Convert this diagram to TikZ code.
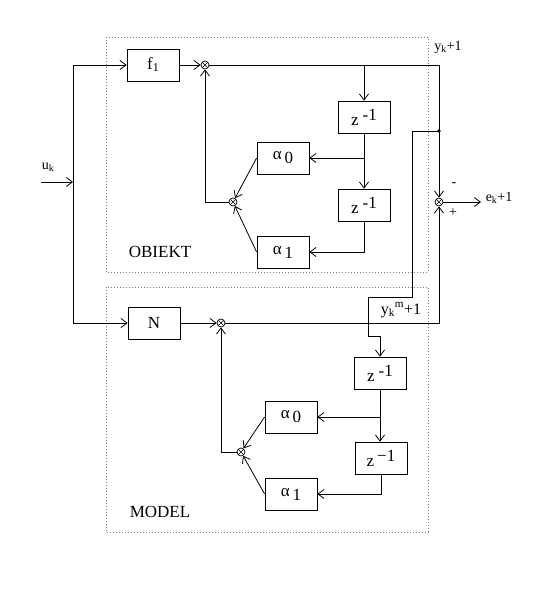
\documentclass[tikz,border=0pt]{standalone}
\usepackage{fontspec}
\setmainfont{Liberation Serif}
\usetikzlibrary{arrows.meta}
\newcommand{\zinv}{z\hspace{4pt}\raisebox{5pt}{-1}}
\newcommand{\zinvm}{z\hspace{3pt}\raisebox{5pt}{\textminus 1}}
\newcommand{\alp}[1]{α\hspace{3pt}\raisebox{-4pt}{#1}}
\begin{document}
\begin{tikzpicture}[x=1pt,y=-1pt,
  blk/.style={draw,line width=0.8pt,minimum width=52pt,minimum height=32pt,inner sep=0pt,font=\fontsize{17}{19}\selectfont},
  sumj/.style={draw,circle,minimum size=8pt,inner sep=0pt,line width=0.7pt,
    path picture={\draw[line width=0.6pt] (path picture bounding box.north west)--(path picture bounding box.south east) (path picture bounding box.north east)--(path picture bounding box.south west);}},
  wire/.style={line width=0.8pt},
  arr/.style={wire,-{Straight Barb[length=6pt,width=9pt]}},
  frame/.style={gray,dotted,line width=1pt},
  lbl/.style={font=\fontsize{14}{16}\selectfont,inner sep=0pt},
  big/.style={font=\fontsize{17}{19}\selectfont,inner sep=0pt}]
\useasboundingbox (0,0) rectangle (550,600);
% frames
\draw[frame] (106,37) rectangle (428,272);
\draw[frame] (106,287) rectangle (428,532);
\node[big] (obiekt) at (160,252) {OBIEKT};
\node[big] (model) at (160,512) {MODEL};
% top blocks
\node[blk] (f1) at (153,65) {f\raisebox{-2pt}{\fontsize{12}{13}\selectfont 1}};
\node[sumj] (j1) at (205,65) {};
\node[blk] (z1) at (364,117) {\zinv};
\node[blk] (a0) at (283,158) {\alp{0}};
\node[blk] (z2) at (364,205) {\zinv};
\node[blk] (a1) at (283,252) {\alp{1}};
\node[sumj] (j2) at (233,202) {};
\node[sumj] (jo) at (439,202) {};
% bottom blocks
\node[blk] (N) at (154,323) {N};
\node[sumj] (jm) at (221,323) {};
\node[blk] (z3) at (380,373) {\zinv};
\node[blk] (b0) at (291,417) {\alp{0}};
\node[blk] (z4) at (381,458) {\zinvm};
\node[blk] (b1) at (291,494) {\alp{1}};
\node[sumj] (jb) at (241,452) {};
% labels
\node[lbl] (uk) at (48,167) {u\textsubscript{k}};
\node[lbl] (yk) at (448,47) {y\textsubscript{k}+1};
\node[lbl] (ek) at (499,198) {e\textsubscript{k}+1};
\node[lbl] (mi) at (454,185) {-};
\node[lbl] (pl) at (453,213) {+};
\node[font=\fontsize{16}{18}\selectfont,inner sep=0pt] (ym) at (401,310) {y\textsubscript{k}\textsuperscript{m}+1};
% coordinates
\coordinate (uin) at (41,182);
\coordinate (bus) at (73,182);
\coordinate (bt) at (73,65);
\coordinate (bb) at (73,323);
\coordinate (tr) at (439,65);
\coordinate (dot) at (439,131);
\coordinate (br1) at (364,65);
\coordinate (br2) at (364,158);
\coordinate (p1) at (412,131);
\coordinate (p2) at (412,297);
\coordinate (p3) at (368,297);
\coordinate (p4) at (368,336);
\coordinate (p5) at (380,336);
\coordinate (mr) at (439,323);
\coordinate (br3) at (380,417);
\coordinate (eo) at (481,202);
% input
\draw[arr] (uin) -- (bus);
\draw[wire] (bt) -- (bb);
\draw[arr] (bt) -- (f1);
\draw[arr] (bb) -- (N);
% top
\draw[arr] (f1) -- (j1);
\draw[wire] (j1) -- (tr) -- (dot);
\draw[arr] (dot) -- (jo);
\fill (dot) circle (1.8pt);
\draw[arr] (br1) -- (z1);
\draw[arr] (z1) -- (z2);
\draw[arr] (br2) -- (a0);
\draw[arr] (z2.south) |- (a1.east);
\draw[arr] (a0.west) -- (j2);
\draw[arr] (a1.west) -- (j2);
\draw[arr] (j2.west) -| (j1.south);
% feed to model
\draw[arr] (dot) -- (p1) -- (p2) -- (p3) -- (p4) -- (p5) -- (z3.north);
% bottom
\draw[arr] (N) -- (jm);
\draw[arr] (jm) -- (mr) -- (jo);
\draw[arr] (z3.south) -- (z3.south |- z4.north);
\draw[arr] (br3) -- (b0);
\draw[arr] (z4.south) |- (b1.east);
\draw[arr] (b0.west) -- (jb);
\draw[arr] (b1.west) -- (jb);
\draw[arr] (jb.west) -| (jm.south);
% output
\draw[arr] (jo) -- (eo);
\end{tikzpicture}
\end{document}
